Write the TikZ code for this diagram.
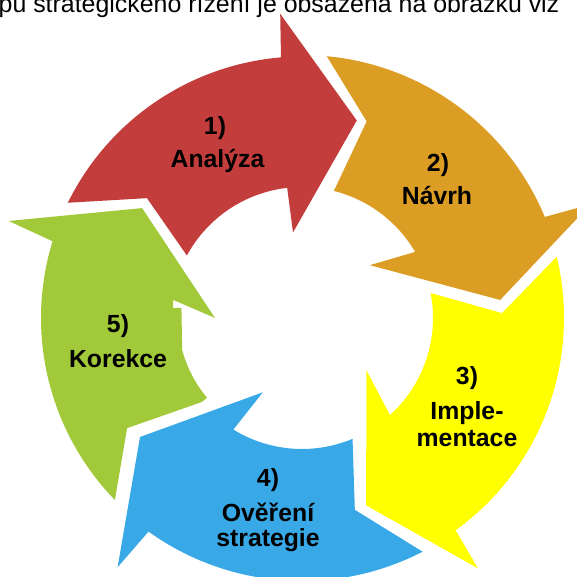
\documentclass[tikz,border=0pt]{standalone}
\usepackage{fontspec}
\setmainfont{Liberation Sans}
\definecolor{anared}{HTML}{C43D3D}
\definecolor{navorange}{HTML}{DB9D24}
\definecolor{impyellow}{HTML}{FFFF00}
\definecolor{overblue}{HTML}{38A8E6}
\definecolor{korgreen}{HTML}{A2C93A}
\begin{document}
\begin{tikzpicture}[x=1pt, y=1pt, every node/.style={font=\fontsize{24.8pt}{28pt}\selectfont\bfseries, anchor=base, inner sep=0pt}]
\useasboundingbox (0,0) rectangle (577,577);
\clip (0,0) rectangle (577,577);
\node[font=\fontsize{24.9pt}{28pt}\selectfont, anchor=base west] (intro) at (-1.5,564.5) {pu strategického řízení je obsažena na obrázku viz};
\begin{scope}[shift={(302,259)}]
\fill[anared] (153.8:261) arc[start angle=153.8, end angle=94.8, radius=262] -- (94.1:305) -- (74.5:205) -- (96:86) -- (96.5:131) arc[start angle=96.5, end angle=151.5, radius=131] -- (142.3:196) -- cycle;
\fill[navorange] (84.6:263) arc[start angle=84.6, end angle=22.6, radius=263] -- (21.5:310) -- (5.2:199) -- (37.9:86) -- (30.3:131) arc[start angle=30.3, end angle=75.9, radius=131] -- (71.8:207) -- cycle;
\fill[impyellow] (13.5:262) arc[start angle=13.5, end angle=-54.1, radius=262] -- (-54.9:306) -- (-71.1:198) -- (-39.1:83) -- (-47.8:131) arc[start angle=-47.8, end angle=11, radius=131] -- (1.4:200) -- cycle;
\fill[overblue] (-62.7:263) arc[start angle=-62.7, end angle=-125.7, radius=263] -- (-126.5:310) -- (-143.7:201) -- (-117.8:84) -- (-121.6:131) arc[start angle=-121.6, end angle=-67.3, radius=131] -- (-74.6:199) -- cycle;
\fill[korgreen] (-135.8:261) arc[start angle=-135.8, end angle=-197.1, radius=261] -- (161.7:309) -- (145.5:194) -- (180:87) -- (172:130) -- (175.6:129.4) -- (175.2:121) -- (194.9:124) arc[start angle=194.9, end angle=220, radius=124] -- (220:130.6) -- (212.2:206.7) -- cycle;
\end{scope}
\node (num1) at (215,442) {1)};
\node (lab1) at (217.5,409) {Analýza};
\node (num2) at (438,405) {2)};
\node (lab2) at (437,372) {Návrh};
\node (num3) at (467,192) {3)};
\node (lab3a) at (467,157) {Imple-};
\node (lab3b) at (467,130) {mentace};
\node (num4) at (268,90) {4)};
\node (lab4a) at (268,55) {Ověření};
\node (lab4b) at (268,30) {strategie};
\node (num5) at (118,244) {5)};
\node (lab5) at (118,209) {Korekce};
\end{tikzpicture}
\end{document}
